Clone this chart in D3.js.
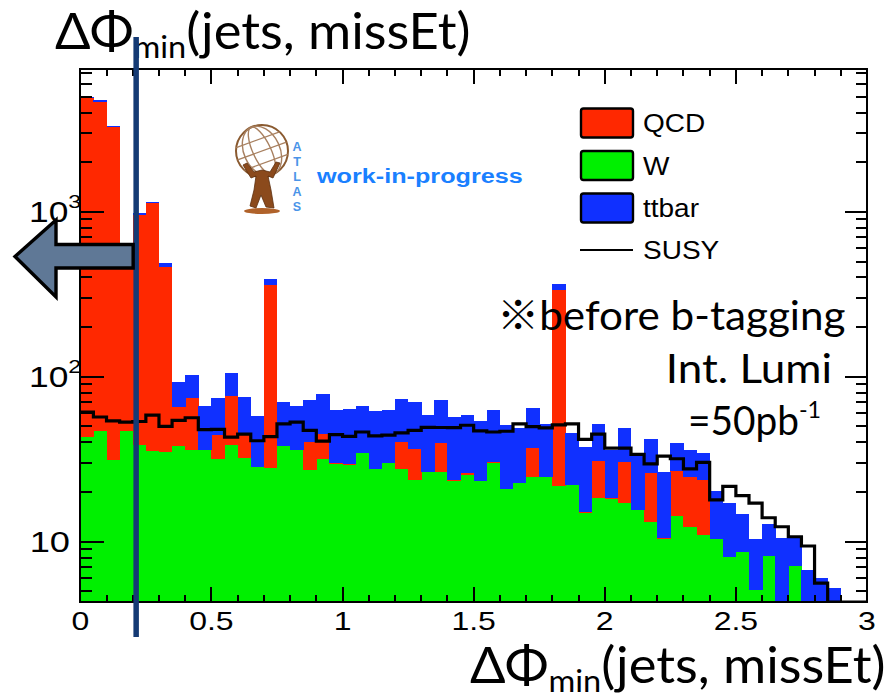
<!DOCTYPE html>
<html>
<head>
<meta charset="utf-8">
<script src="https://cdn.jsdelivr.net/npm/d3@7"></script>
<style>
  html, body { margin: 0; padding: 0; background: #fff; }
  svg { display: block; }
</style>
</head>
<body>
<svg id="chart" width="888" height="699"></svg>
<script>
// ΔΦ_min(jets, missEt) distribution, 60 bins of 0.05 from 0 to 3, stacked backgrounds + SUSY signal
const binWidth = 0.05;
const nBins = 60;
const seriesKeys = ["W", "QCD", "ttbar"];          // stacking order, bottom to top
const legendKeys = ["QCD", "W", "ttbar", "SUSY"];

const wValues = [43.1, 46.8, 31.4, 46.8, 38.8, 35.3, 34.8, 38.2, 35.9, 36.0,
                 31.6, 38.3, 32.0, 28.2, 28.0, 37.8, 35.7, 27.0, 31.9, 29.5,
                 29.0, 34.3, 27.4, 29.8, 27.4, 23.5, 26.6, 26.6, 23.2, 25.5,
                 23.4, 29.9, 20.7, 22.8, 24.8, 24.8, 21.6, 21.9, 15.0, 18.3,
                 18.1, 17.1, 15.6, 13.2, 10.3, 14.2, 12.2, 11.0, 10.3, 8.1,
                 8.65, 5.1, 8.2, 0, 7.1, 0, 0, 0, 0, 0];
const qcdValues = [4857, 4613, 3249, 473, 923, 1094, 428, 27.4, 38.4, 0,
                   13.0, 38.0, 12.3, 0.3, 331, 0, 0, 13.2, 12.9, 0.4,
                   0.7, 0, 0, 0, 12.6, 12.7, 0, 12.8, 0.5, 0.7,
                   0, 0.6, 0, 0, 12.4, 0, 316, 0, 0.2, 12.7,
                   0.2, 13.2, 0, 12.8, 0.2, 12.5, 12.6, 12.8, 0, 0,
                   0, 0, 0, 0, 0, 0, 0, 0, 0, 0];
const ttbarValues = [50, 90, 50, 30, 23, 17, 26, 26.8, 28.7, 30.1,
                     29.4, 28.7, 30.7, 29.0, 30, 32.0, 30.5, 31.9, 33.5, 32.8,
                     33.9, 31.9, 34.4, 32.9, 33.1, 33.9, 31.7, 32.7, 33.0, 32.1,
                     30.3, 32.2, 30.0, 26.1, 27.2, 26.8, 30, 23.9, 22.2, 20.5,
                     17.7, 18.6, 17.9, 16.1, 15.9, 12.9, 10.9, 10.6, 10.1, 9.0,
                     6.15, 5.3, 4.6, 10.5, 3.4, 6.7, 6.0, 5.2, 0, 0];
const susyValues = [61, 57, 54, 53, 53.5, 58.5, 50, 54.4, 56.4, 47.8,
                    48, 43, 44.8, 40.9, 43.3, 51.7, 53, 47.3, 40.7, 44.6,
                    43.5, 46.2, 43.8, 44.3, 45.7, 47.3, 49.3, 49.2, 49.1, 50.8,
                    47, 46.2, 46.7, 51.8, 49.8, 49, 51, 51.8, 41.7, 44.8,
                    36.9, 36.9, 33.8, 29.6, 33, 31.8, 27.6, 30.2, 17.9, 21.6,
                    19, 17.1, 13.95, 12.3, 10.7, 9.4, 5.6, 0, 0, 0];

const xLabelValues = [0, 0.5, 1, 1.5, 2, 2.5, 3];
const yLabelValues = [10, 100, 1000];
const cutValue = 0.213;   // ΔΦ_min cut marker

const colors = { QCD: "#ff2800", W: "#00f000", ttbar: "#1030ff", SUSY: "#000000" };

// ---------------------------------------------------------------------------
const svg = d3.select("#chart");
const frame = { left: 80.3, right: 867, top: 69, bottom: 602 };

const x = d3.scaleLinear().domain([0, 3]).range([frame.left, frame.right]);
const y = d3.scaleLog().domain([4.3, 7360]).range([frame.bottom, frame.top]).clamp(true);
const yv = v => y(Math.max(v, y.domain()[0]));

const binLow = d3.range(nBins).map(i => i * binWidth);
const rows = binLow.map((lo, i) => ({ lo, W: wValues[i], QCD: qcdValues[i], ttbar: ttbarValues[i] }));
const layers = d3.stack().keys(seriesKeys)(rows);

svg.append("defs").append("clipPath").attr("id", "plotClip")
  .append("rect")
  .attr("x", frame.left).attr("y", frame.top)
  .attr("width", frame.right - frame.left).attr("height", frame.bottom - frame.top);

const plot = svg.append("g").attr("clip-path", "url(#plotClip)");

// stacked histogram bars
plot.selectAll("g.layer").data(layers).join("g")
  .attr("class", "layer")
  .attr("fill", d => colors[d.key])
  .attr("shape-rendering", "crispEdges")
  .selectAll("rect").data(d => d).join("rect")
  .attr("x", d => x(d.data.lo))
  .attr("width", d => x(d.data.lo + binWidth) - x(d.data.lo) + 0.4)
  .attr("y", d => yv(d[1]))
  .attr("height", d => Math.max(0, yv(d[0]) - yv(d[1])));

// SUSY signal as a step outline
const stepPts = [];
susyValues.forEach((v, i) => {
  const yy = yv(v);
  stepPts.push([x(binLow[i]), yy], [x(binLow[i] + binWidth), yy]);
});
plot.append("path")
  .attr("d", d3.line()(stepPts))
  .attr("fill", "none")
  .attr("stroke", colors.SUSY)
  .attr("stroke-width", 3.2)
  .attr("stroke-linejoin", "miter");

// ---------------------------------------------------------------------------
// axes: ticks on all four sides, pointing inward
const axes = svg.append("g").attr("stroke", "#000").attr("shape-rendering", "crispEdges");
const yTicks = y.ticks().filter(t => t >= y.domain()[0] && t <= y.domain()[1]);
const isDecade = t => Math.abs(Math.log10(t) - Math.round(Math.log10(t))) < 1e-9;
yTicks.forEach(t => {
  const major = isDecade(t);
  axes.append("line").attr("x1", frame.left).attr("x2", frame.left + (major ? 24 : 12))
    .attr("y1", y(t)).attr("y2", y(t)).attr("stroke-width", 2);
  axes.append("line").attr("x1", frame.right).attr("x2", frame.right - (major ? 22 : 11))
    .attr("y1", y(t)).attr("y2", y(t)).attr("stroke-width", 2);
});
const xTicks = d3.range(0, 31).map(i => i / 10);
xTicks.forEach(t => {
  const major = Math.abs(t * 2 - Math.round(t * 2)) < 1e-9;
  const len = major ? 15 : 7;
  axes.append("line").attr("x1", x(t)).attr("x2", x(t))
    .attr("y1", frame.bottom).attr("y2", frame.bottom - len).attr("stroke-width", 2);
  axes.append("line").attr("x1", x(t)).attr("x2", x(t))
    .attr("y1", frame.top).attr("y2", frame.top + len).attr("stroke-width", 2);
});
axes.append("rect")
  .attr("x", frame.left).attr("y", frame.top)
  .attr("width", frame.right - frame.left).attr("height", frame.bottom - frame.top)
  .attr("fill", "none").attr("stroke-width", 2.2);

// text helper: horizontally stretched text
function stext(parent, px, py, sx, opts) {
  const g = parent.append("g").attr("transform", `translate(${px},${py}) scale(${sx},1)`);
  return g.append("text")
    .attr("text-anchor", opts.anchor || "start")
    .style("font-family", opts.family || "'Liberation Sans', Arial, sans-serif")
    .style("font-size", (opts.size || 20) + "px")
    .style("font-weight", opts.weight || "normal")
    .attr("fill", opts.fill || "#000");
}

const labels = svg.append("g");
xLabelValues.forEach(v => {
  stext(labels, x(v), 630, 1.28, { anchor: "middle", size: 25 }).text(String(v));
});
yLabelValues.forEach(v => {
  const e = Math.round(Math.log10(v));
  if (e === 1) {
    stext(labels, 70, y(v) + 10.5, 1.25, { anchor: "end", size: 29 }).text("10");
  } else {
    const t = stext(labels, 29, y(v) + 10.5, 1.22, { anchor: "start", size: 29 });
    t.append("tspan").text("10");
    t.append("tspan").attr("dy", -14).style("font-size", "19px").text(String(e));
  }
});

// legend
const legend = svg.append("g");
legendKeys.forEach((k, i) => {
  const cy = [123, 165.5, 208, 250][i];
  if (k === "SUSY") {
    legend.append("line").attr("x1", 580).attr("x2", 633).attr("y1", cy).attr("y2", cy)
      .attr("stroke", colors.SUSY).attr("stroke-width", 2);
  } else {
    legend.append("rect").attr("x", 581).attr("y", cy - 14.5).attr("width", 52).attr("height", 29)
      .attr("rx", 2.5).attr("fill", colors[k]).attr("stroke", "#000").attr("stroke-width", 2.4);
  }
  stext(legend, 643, cy + 9, 1.12, { size: 25 }).text(k);
});

// ATLAS emblem (simplified): globe held by a figure
const logo = svg.append("g").attr("fill", "none");
const gc = { x: 262, y: 151, r: 26 };
logo.append("circle").attr("cx", gc.x).attr("cy", gc.y).attr("r", gc.r)
  .attr("stroke", "#8a5a30").attr("stroke-width", 2);
[9, 18].forEach(rx => logo.append("ellipse").attr("cx", gc.x).attr("cy", gc.y)
  .attr("rx", rx).attr("ry", gc.r).attr("stroke", "#a88060").attr("stroke-width", 1.4)
  .attr("transform", `rotate(-25 ${gc.x} ${gc.y})`));
[-12, 0, 12].forEach(dy => logo.append("line")
  .attr("x1", gc.x - Math.sqrt(gc.r * gc.r - dy * dy)).attr("x2", gc.x + Math.sqrt(gc.r * gc.r - dy * dy))
  .attr("y1", gc.y + dy).attr("y2", gc.y + dy)
  .attr("stroke", "#a88060").attr("stroke-width", 1.3)
  .attr("transform", `rotate(-20 ${gc.x} ${gc.y})`));
logo.append("path")
  .attr("d", "M243,165 L251,178 L256,176 L254,190 L250,206 L256,208 L261,195 L266,207 L274,208 L271,190 L268,176 L273,178 L280,163 L276,162 L270,172 L262,170 L254,172 L247,163 Z")
  .attr("fill", "#8b4a1c").attr("stroke", "#5c2e0e").attr("stroke-width", 0.8);
logo.append("ellipse").attr("cx", 262).attr("cy", 211).attr("rx", 18).attr("ry", 3)
  .attr("fill", "#b0622a");

// vertical "ATLAS" lettering beside the emblem
const atlasLetters = ["A", "T", "L", "A", "S"];
atlasLetters.forEach((c, i) => {
  svg.append("text").attr("x", 297).attr("y", 150.5 + i * 15.2).attr("text-anchor", "middle")
    .style("font-family", "'Liberation Sans', Arial, sans-serif").style("font-size", "12.5px")
    .style("font-weight", "bold").attr("fill", "#4a94e8").text(c);
});
stext(svg, 317, 183, 1.2, { size: 21, weight: "bold", fill: "#1a80ff" }).text("work-in-progress");

// annotations
const gill = "Lato, 'Open Sans', 'Noto Sans CJK JP', sans-serif";
stext(svg, 497, 330, 1.03, { size: 41, family: gill }).text("※before b-tagging");
stext(svg, 832, 383, 1.1, { size: 40, family: gill, anchor: "end" }).text("Int. Lumi");
const lumi = stext(svg, 688, 435, 0.97, { size: 40, family: gill });
lumi.append("tspan").text("=50pb");
lumi.append("tspan").attr("dy", -17).style("font-size", "24px").text("-1");

// axis titles
function phiTitle(px, py) {
  const t = stext(svg, px, py, 1.05, { size: 50, family: gill });
  t.append("tspan").text("ΔΦ");
  t.append("tspan").attr("dy", 9).style("font-size", "31px").text("min");
  t.append("tspan").attr("dy", -9).text("(jets, missEt)");
  return t;
}
phiTitle(55, 49);
phiTitle(470, 683);

// cut marker line and arrow
svg.append("line")
  .attr("x1", x(cutValue)).attr("x2", x(cutValue))
  .attr("y1", 37).attr("y2", 637)
  .attr("stroke", "#143a74").attr("stroke-width", 5.5);
const ax = x(cutValue) - 3;
svg.append("path")
  .attr("d", `M15,256.5 L56,220 L56,244.5 L${ax},244.5 L${ax},268 L56,268 L56,297 Z`)
  .attr("fill", "#5f7896").attr("stroke", "#000").attr("stroke-width", 3.4)
  .attr("stroke-linejoin", "miter");
</script>
</body>
</html>
